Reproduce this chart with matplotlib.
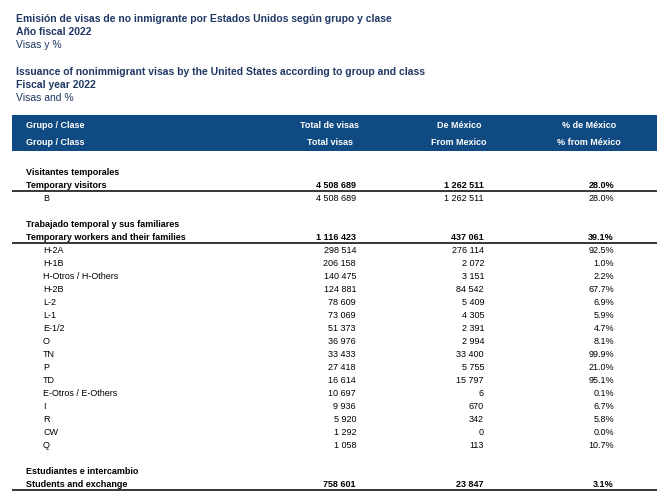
import matplotlib.pyplot as plt
from matplotlib.patches import Rectangle

plt.rcParams['font.family'] = ['Liberation Sans', 'DejaVu Sans']

title_lines = [
    ("Emisión de visas de no inmigrante por Estados Unidos según grupo y clase", "bold"),
    ("Año fiscal 2022", "bold"),
    ("Visas y %", "normal"),
    ("Issuance of nonimmigrant visas by the United States according to group and class", "bold"),
    ("Fiscal year 2022", "bold"),
    ("Visas and %", "normal"),
]

header_es = ["Grupo / Clase", "Total de visas", "De México", "% de México"]
header_en = ["Group / Class", "Total visas", "From Mexico", "% from México"]

# groups: spanish label, english label, total, from mexico, pct
group_es = ["Visitantes temporales", "Trabajado temporal y sus familiares", "Estudiantes e intercambio"]
group_en = ["Temporary visitors", "Temporary workers and their families", "Students and exchange"]
group_total = [4508689, 1116423, 758601]
group_mex = [1262511, 437061, 23847]
group_pct = [28.0, 39.1, 3.1]

# classes per group
class_names = [
    ["B"],
    ["H-2A", "H-1B", "H-Otros / H-Others", "H-2B", "L-2", "L-1", "E-1/2", "O",
     "TN", "P", "TD", "E-Otros / E-Others", "I", "R", "CW", "Q"],
    [],
]
class_total = [
    [4508689],
    [298514, 206158, 140475, 124881, 78609, 73069, 51373, 36976,
     33433, 27418, 16614, 10697, 9936, 5920, 1292, 1058],
    [],
]
class_mex = [
    [1262511],
    [276114, 2072, 3151, 84542, 5409, 4305, 2391, 2994,
     33400, 5755, 15797, 6, 670, 342, 0, 113],
    [],
]
class_pct = [
    [28.0],
    [92.5, 1.0, 2.2, 67.7, 6.9, 5.9, 4.7, 8.1,
     99.9, 21.0, 95.1, 0.1, 6.7, 5.8, 0.0, 10.7],
    [],
]

NAVY = "#1F3864"
BAND = "#0F4A82"
FS = 6.5
BL = 3.3  # offset from row centre to text baseline, px


def fmt(v):
    return f"{v:,}".replace(",", " ")


fig = plt.figure(figsize=(6.57, 4.91), dpi=100)
ax = fig.add_axes([0, 0, 1, 1])
ax.set_xlim(0, 657)
ax.set_ylim(491, 0)
ax.axis("off")


def put(x, y, s, **kw):
    kw.setdefault("fontsize", FS)
    ax.text(x, y + BL, s, va="baseline", **kw)


# titles
title_y = [18, 31, 44, 71, 84, 97]
for (txt, w), y in zip(title_lines, title_y):
    ax.text(16, y + 3.8, txt, fontsize=7.5, fontweight=w, color=NAVY, va="baseline", ha="left")

# header band
ax.add_patch(Rectangle((12, 115), 657 - 12, 36, color=BAND, lw=0))
col_center = [None, 330, 459, 589]
col_right = [None, 356, 484, 614]
for row, y in ((header_es, 125), (header_en, 142)):
    put(26, y, row[0], fontweight="bold", color="white")
    for j in range(1, 4):
        put(col_center[j], y, row[j], fontweight="bold", color="white", ha="center")


def row_values(y, tot, mex, pct, weight):
    put(col_right[1], y, fmt(tot), fontweight=weight, ha="right")
    put(col_right[2], y, fmt(mex), fontweight=weight, ha="right")
    put(col_right[3], y, f"{pct:.1f}%", fontweight=weight, ha="right")


pitch = 13
y = 172
for g in range(len(group_es)):
    put(26, y, group_es[g], fontweight="bold")
    y += pitch
    put(26, y, group_en[g], fontweight="bold")
    row_values(y, group_total[g], group_mex[g], group_pct[g], "bold")
    ax.plot([12, 657], [y + 6, y + 6], color="black", lw=1.1, solid_capstyle="butt")
    for k in range(len(class_names[g])):
        y += pitch
        put(43, y, class_names[g][k])
        row_values(y, class_total[g][k], class_mex[g][k], class_pct[g][k], "normal")
    y += 2 * pitch

fig.savefig("out.png", dpi=100)
